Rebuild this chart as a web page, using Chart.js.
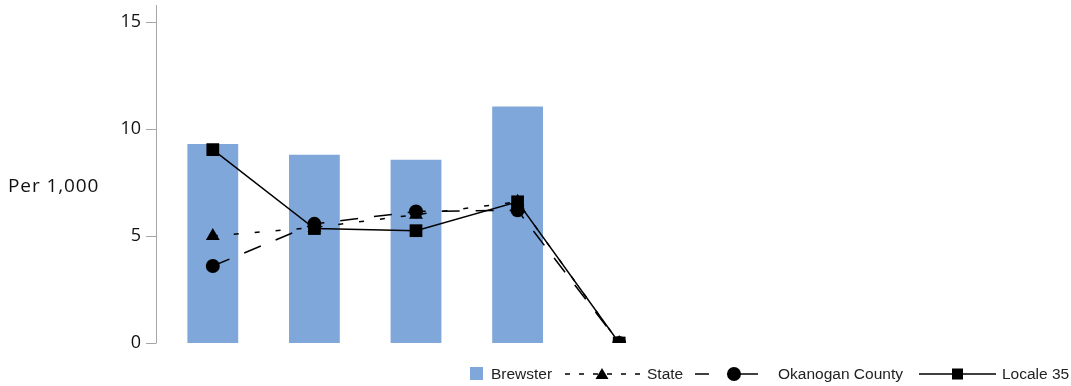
<!DOCTYPE html>
<html>
<head>
<meta charset="utf-8">
<script src="https://cdn.jsdelivr.net/npm/chart.js@4/dist/chart.umd.min.js"></script>
<style>
  body { margin: 0; background: #fff; }
  #wrap { position: relative; width: 1071px; height: 386px; }
  #chart { position: absolute; left: 0; top: 0; }
  .ytitle { position: absolute; left: 8px; top: 172px; font: 19px "Open Sans", sans-serif; letter-spacing: 0.9px; color: #111; }
  .leg { position: absolute; top: 365px; height: 18px; font: 15.5px "Liberation Sans", Arial, sans-serif; color: #222; line-height: 18px; }
  .leg svg { display: block; }
</style>
</head>
<body>
<div id="wrap">
  <canvas id="chart" width="1071" height="386"></canvas>
  <div class="ytitle">Per 1,000</div>
  <div class="leg" style="left:470px;top:367px;width:13px;height:13px;background:#7FA7D9"></div>
  <div class="leg" style="left:491px">Brewster</div>
  <div class="leg" style="left:560px">
    <svg width="82" height="18"><line x1="5" y1="9" x2="80" y2="9" stroke="#000" stroke-width="1.5" stroke-dasharray="5 9"/><polygon points="42,3 48.5,14 35.5,14" fill="#000"/></svg>
  </div>
  <div class="leg" style="left:647px">State</div>
  <div class="leg" style="left:693px">
    <svg width="68" height="18"><line x1="2" y1="9" x2="16" y2="9" stroke="#000" stroke-width="1.5"/><line x1="34" y1="9" x2="65" y2="9" stroke="#000" stroke-width="1.5"/><circle cx="41" cy="9" r="7" fill="#000"/></svg>
  </div>
  <div class="leg" style="left:778px">Okanogan County</div>
  <div class="leg" style="left:916px">
    <svg width="84" height="18"><line x1="3" y1="9" x2="80" y2="9" stroke="#000" stroke-width="1.5"/><rect x="36" y="3.5" width="11" height="11" fill="#000"/></svg>
  </div>
  <div class="leg" style="left:1002px">Locale 35</div>
</div>
<script>
// chart values
const categories = ['', '', '', '', ''];
const brewster = [9.3, 8.8, 8.57, 11.05, 0];
const state = [5.0, 5.4, 6.0, 6.6, 0];
const okanogan = [3.6, 5.57, 6.15, 6.2, 0];
const locale35 = [9.04, 5.35, 5.25, 6.6, 0];
const yTicks = [0, 5, 10, 15];

// draws the y axis line a few px left of the plot, with tick marks
const axisLine = {
  id: 'axisLine',
  afterDraw(chart) {
    const ctx = chart.ctx;
    const y = chart.scales.y;
    const x = chart.chartArea.left - 6;
    ctx.save();
    ctx.strokeStyle = '#A6A6A6';
    ctx.lineWidth = 1;
    ctx.beginPath();
    ctx.moveTo(x + 0.5, chart.chartArea.top);
    ctx.lineTo(x + 0.5, chart.chartArea.bottom);
    yTicks.forEach(v => {
      const py = Math.round(y.getPixelForValue(v)) + 0.5;
      ctx.moveTo(x - 10, py);
      ctx.lineTo(x + 0.5, py);
    });
    ctx.stroke();
    ctx.restore();
  }
};

const lineBase = {
  type: 'line',
  borderColor: '#000',
  backgroundColor: '#000',
  borderWidth: 1.5,
  tension: 0,
  fill: false,
  pointBorderWidth: 0,
  clip: { left: 20, top: 20, right: 20, bottom: 0 }
};

new Chart(document.getElementById('chart'), {
  data: {
    labels: categories,
    datasets: [
      { type: 'bar', label: 'Brewster', data: brewster, backgroundColor: '#7FA7D9',
        categoryPercentage: 1, barPercentage: 0.5, order: 4 },
      Object.assign({}, lineBase, { label: 'State', data: state, borderDash: [5, 16],
        pointStyle: 'triangle', pointRadius: 8, order: 3 }),
      Object.assign({}, lineBase, { label: 'Okanogan County', data: okanogan, borderDash: [18, 16],
        pointStyle: 'circle', pointRadius: 7, order: 2 }),
      Object.assign({}, lineBase, { label: 'Locale 35', data: locale35,
        pointStyle: 'rect', pointRadius: 9, order: 1 })
    ]
  },
  options: {
    responsive: false,
    animation: false,
    layout: { autoPadding: false, padding: { left: 100, top: 5, right: 401, bottom: 43 } },
    plugins: { legend: { display: false }, tooltip: { enabled: false } },
    scales: {
      x: { display: false, offset: true },
      y: {
        min: 0, max: 15.8,
        afterBuildTicks: s => { s.ticks = yTicks.map(v => ({ value: v })); },
        afterFit: s => { s.width = 62; s.paddingTop = 0; s.paddingBottom = 0; },
        border: { display: false },
        grid: { display: false, drawTicks: true, tickLength: 8 },
        ticks: { padding: 13, color: '#111', font: { family: 'Open Sans', size: 18 } }
      }
    }
  },
  plugins: [axisLine]
});
</script>
</body>
</html>
